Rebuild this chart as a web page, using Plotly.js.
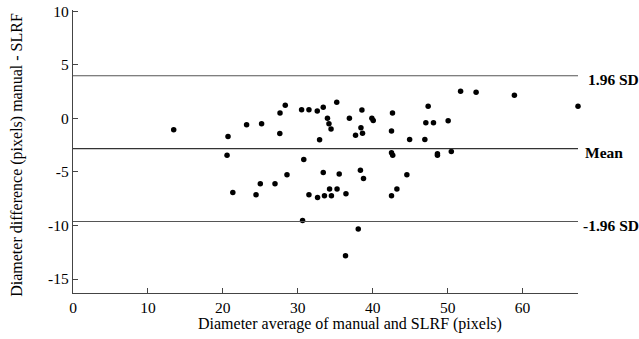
<!DOCTYPE html>
<html>
<head>
<meta charset="utf-8">
<script src="https://cdn.plot.ly/plotly-3.0.1.min.js"></script>
<style>html,body{margin:0;padding:0;background:#fff;}#chart{width:639px;height:339px;}</style>
</head>
<body>
<div id="chart"></div>
<script>
// Bland-Altman data: average of manual and SLRF (x), difference manual - SLRF (y)
const avgDiameter = [13.44,20.69,20.56,21.33,23.17,24.43,25.0,25.17,26.96,27.63,27.6,28.33,28.56,30.51,30.8,30.64,31.49,31.49,32.6,32.64,32.91,33.4,33.4,33.56,33.96,34.16,34.44,34.24,34.49,35.2,35.24,35.53,36.43,36.37,36.89,37.71,38.07,38.36,38.56,38.43,38.64,38.77,39.89,40.07,42.51,42.64,42.51,42.67,42.51,43.23,44.56,44.93,46.96,47.09,47.4,48.11,48.64,48.64,50.07,50.49,51.73,53.8,58.91,67.4];
const diffDiameter = [-1.07,-1.70,-3.44,-6.93,-0.60,-7.13,-6.12,-0.50,-6.12,0.49,-1.42,1.22,-5.28,0.79,-3.84,-9.54,0.79,-7.13,0.68,-7.40,-2.0,1.02,-5.05,-7.22,0.01,-0.50,-1.0,-6.59,-7.22,1.50,-6.59,-5.21,-7.03,-12.83,0.01,-1.58,-10.34,-4.84,0.77,-0.88,-1.40,-5.63,0.01,-0.20,-1.18,0.49,-3.21,-3.45,-7.22,-6.59,-5.28,-1.99,-1.99,-0.41,1.12,-0.41,-3.30,-3.45,-0.22,-3.09,2.52,2.42,2.14,1.12];
const limitValues = [3.97, -2.83, -9.63];
const limitLabels = ["1.96 SD", "Mean", "-1.96 SD"];
const xTicks = [0,10,20,30,40,50,60];
const yTicks = [-15,-10,-5,0,5,10];
const xTitle = "Diameter average of manual and SLRF (pixels)";
const yTitle = "Diameter difference (pixels) manual - SLRF";

const serif = "Liberation Serif, Times New Roman, serif";

const trace = {
  x: avgDiameter, y: diffDiameter, type: "scatter", mode: "markers",
  marker: {color: "#000", size: 5.5}, cliponaxis: false, hoverinfo: "skip"
};

const lineColors = ["#555", "#333", "#555"];
const shapes = limitValues.map((v, i) => ({
  type: "line", xref: "paper", x0: 0, x1: 1, yref: "y", y0: v, y1: v,
  line: {color: lineColors[i], width: 1.1}
}));
const shifts = [8, 5, 3];
const annotations = limitValues.map((v, i) => ({
  xref: "paper", x: 1, xanchor: "left", xshift: shifts[i],
  yref: "y", y: v, yanchor: "middle", yshift: -4,
  text: "<b>" + limitLabels[i] + "</b>", showarrow: false,
  font: {family: serif, size: 15.5, color: "#000"}
}));
annotations.push({
  xref: "paper", x: 0.548, xanchor: "center", yref: "paper", y: -0.07, yanchor: "top",
  text: xTitle, showarrow: false, font: {family: serif, size: 16, color: "#000"}
});
annotations.push({
  xref: "paper", x: -0.11, xanchor: "center", yref: "paper", y: 0.49, yanchor: "middle",
  text: yTitle, textangle: -90, showarrow: false, font: {family: serif, size: 16, color: "#000"}
});

const layout = {
  width: 639, height: 339,
  margin: {l: 72.5, r: 61, t: 10, b: 45.7},
  paper_bgcolor: "#fff", plot_bgcolor: "#fff",
  showlegend: false,
  font: {family: serif, size: 15, color: "#000"},
  xaxis: {
    range: [0, 67.4], tickvals: xTicks, ticktext: xTicks.map(String),
    ticks: "inside", ticklen: 5, tickcolor: "#444", showgrid: false, zeroline: false,
    showline: true, linecolor: "#444", linewidth: 1.2,
    tickfont: {family: serif, size: 15.5, color: "#000"}
  },
  yaxis: {
    range: [-16.3, 10.1], tickvals: yTicks, ticktext: yTicks.map(String),
    ticks: "inside", ticklen: 5, tickcolor: "#444", showgrid: false, zeroline: false,
    showline: true, linecolor: "#444", linewidth: 1.2,
    tickfont: {family: serif, size: 15.5, color: "#000"}
  },
  shapes: shapes,
  annotations: annotations
};

Plotly.newPlot("chart", [trace], layout, {displayModeBar: false, staticPlot: true});
</script>
</body>
</html>
